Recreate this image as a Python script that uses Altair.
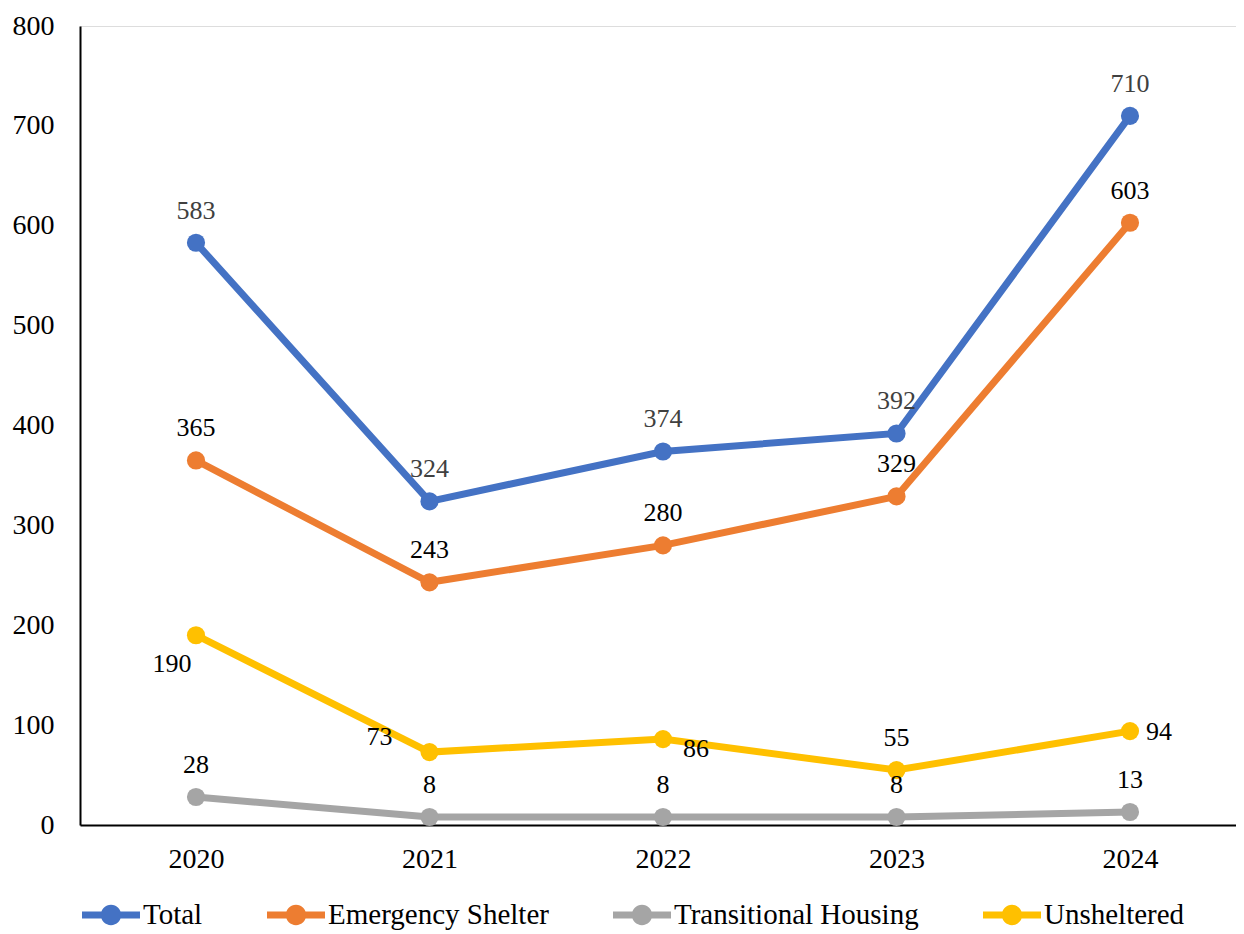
import altair as alt
import pandas as pd

years = ["2020", "2021", "2022", "2023", "2024"]
series = ["Total", "Emergency Shelter", "Transitional Housing", "Unsheltered"]
total = [583, 324, 374, 392, 710]
emergency = [365, 243, 280, 329, 603]
transitional = [28, 8, 8, 8, 13]
unsheltered = [190, 73, 86, 55, 94]
colors = ["#4472C4", "#ED7D31", "#A5A5A5", "#FFC000"]
y_ticks = [0, 100, 200, 300, 400, 500, 600, 700, 800]

rows = []
for name, vals in zip(series, [total, emergency, transitional, unsheltered]):
    for y, v in zip(years, vals):
        rows.append({"year": y, "series": name, "value": v})
df = pd.DataFrame(rows)

FONT = "Liberation Serif"

x = alt.X("year:O", title=None,
          scale=alt.Scale(type="point", padding=0.4754, align=0.5225),
          axis=alt.Axis(labelAngle=0, labelFontSize=28, labelFont=FONT, labelColor="black",
                        ticks=False, domainColor="black", domainWidth=2, labelPadding=20))
y = alt.Y("value:Q", title=None,
          scale=alt.Scale(domain=[0, 800], nice=False),
          axis=alt.Axis(values=y_ticks, labelFontSize=28, labelFont=FONT, labelColor="black",
                        ticks=False, grid=False, domainColor="black", domainWidth=2, labelPadding=26))

legend_path = ("M-1,-0.12L1,-0.12L1,0.12L-1,0.12Z "
               "M0.35,0A0.35,0.35,0,1,1,-0.35,0A0.35,0.35,0,1,1,0.35,0Z")

color = alt.Color("series:N", sort=series,
                  scale=alt.Scale(domain=series, range=colors),
                  legend=alt.Legend(title=None, orient="none", direction="horizontal",
                                    legendX=2, legendY=860,
                                    symbolType=legend_path, symbolSize=3364,
                                    symbolStrokeWidth=0, symbolOpacity=1,
                                    labelFont=FONT, labelFontSize=29, labelColor="black",
                                    labelOffset=3, columnPadding=64, labelLimit=0))

base = alt.Chart(df)

lines = base.mark_line(strokeWidth=7).encode(x=x, y=y, color=color)
points = base.mark_circle(size=330, opacity=1).encode(x=x, y=y, color=color)

txt_color = alt.condition(alt.datum.series == "Total", alt.value("#404040"), alt.value("black"))

def labels(filt, **kw):
    return base.transform_filter(filt).mark_text(font=FONT, fontSize=26, **kw).encode(
        x=x, y=y, text="value:Q", color=txt_color)

is_uns = "datum.series == 'Unsheltered'"
above = labels(f"!({is_uns}) || datum.year == '2023'", dy=-32)
u2020 = labels(f"{is_uns} && datum.year == '2020'", dx=-24, dy=29)
u2021 = labels(f"{is_uns} && datum.year == '2021'", dx=-50, dy=-15)
u2022 = labels(f"{is_uns} && datum.year == '2022'", dx=33, dy=10)
u2024 = labels(f"{is_uns} && datum.year == '2024'", dx=16, dy=1, align="left")

chart = alt.layer(lines, points, above, u2020, u2021, u2022, u2024).properties(
    width=1156, height=799,
    autosize=alt.AutoSizeParams(type="none"),
    padding={"left": 72, "top": 18, "right": 0, "bottom": 108},
).configure_view(stroke=None).configure(background="white")

chart.save("out.html", embed_options={"renderer": "svg", "actions": False})
